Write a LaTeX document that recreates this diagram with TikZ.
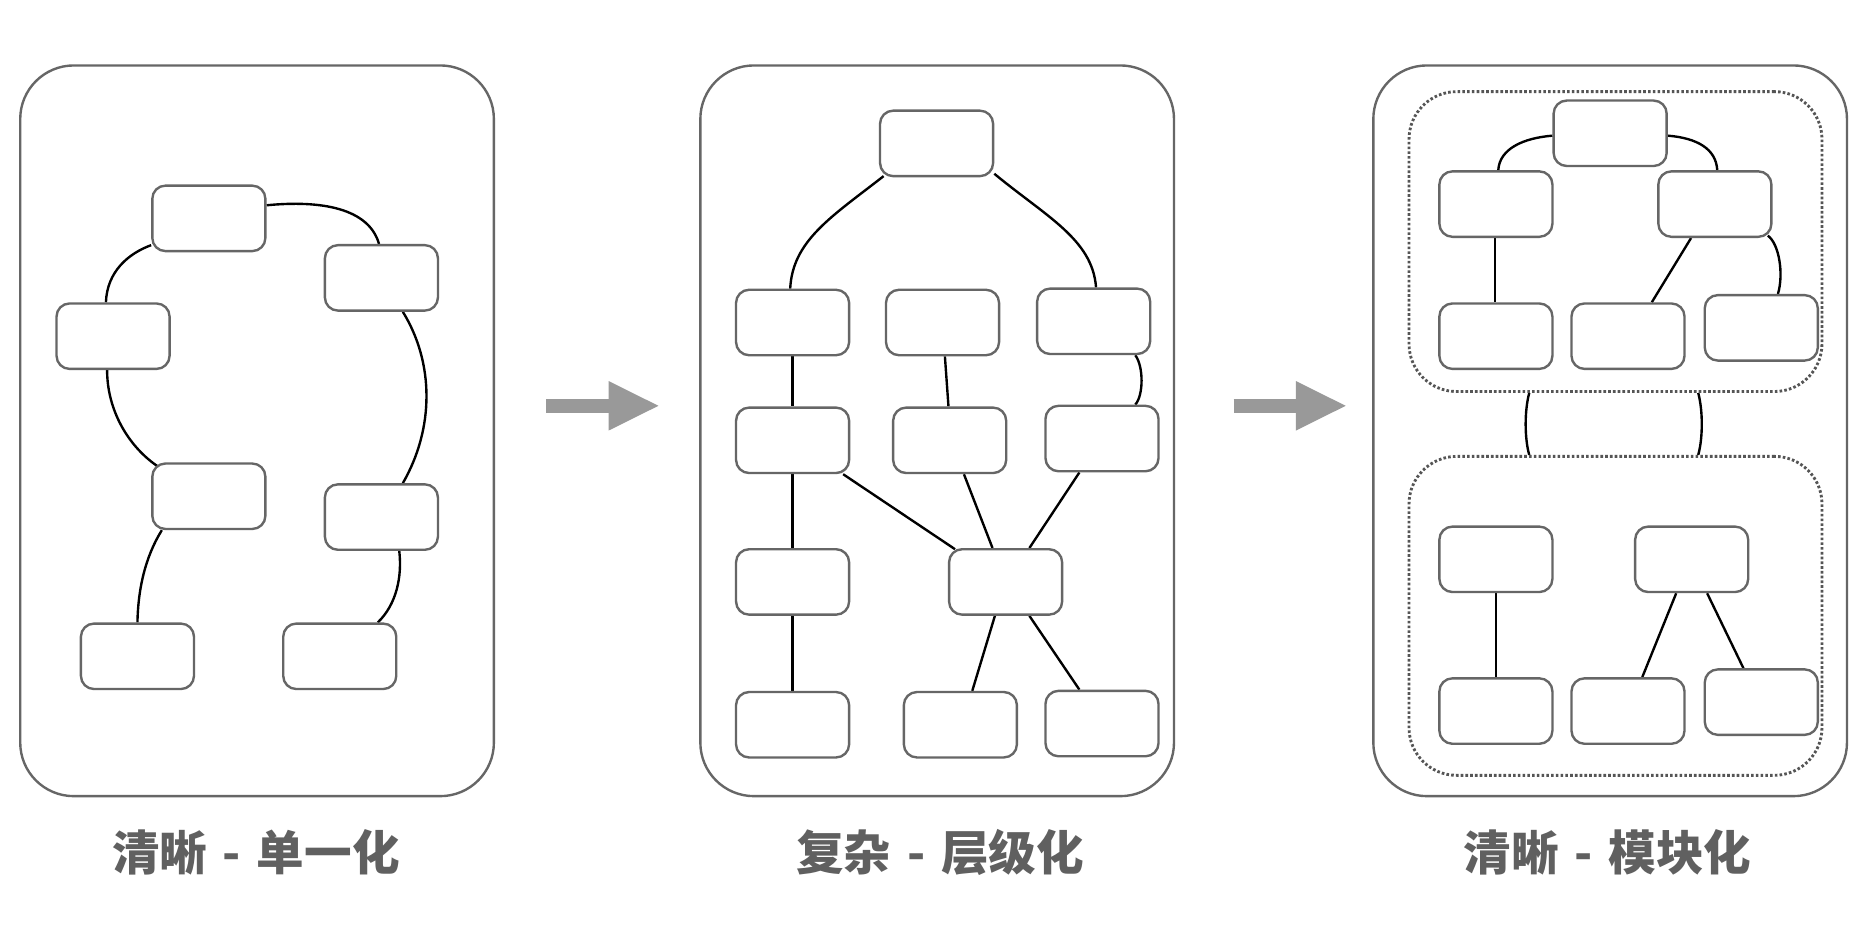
\documentclass[tikz,border=0pt]{standalone}
\usepackage{fontspec}
\newfontfamily\cjk{Noto Sans CJK SC}
\usetikzlibrary{calc,arrows.meta,backgrounds}
\definecolor{boxgray}{HTML}{666666}
\definecolor{dotgray}{HTML}{555555}
\definecolor{arrgray}{HTML}{999999}
\definecolor{txtgray}{HTML}{606060}
\tikzset{
  box/.style={draw=boxgray, fill=white, line width=2pt, rounded corners=11pt,
    minimum width=95pt, minimum height=55pt, inner sep=0pt},
  panel/.style={draw=boxgray, line width=2pt, rounded corners=45pt,
    minimum width=398pt, minimum height=614pt, inner sep=0pt},
  grp/.style={draw=dotgray, line width=2.4pt, dash pattern=on 2.2pt off 1.8pt,
    rounded corners=40pt, inner sep=0pt},
  conn/.style={draw=black, line width=2pt},
  bigarrow/.style={draw=arrgray, line width=12pt, -{Triangle[length=43pt,width=38pt]}},
  title/.style={text=txtgray, font=\cjk\bfseries\fontsize{40}{44}\selectfont, inner sep=0pt}
}
\begin{document}
\begin{tikzpicture}[x=1pt,y=-1pt]
\begin{scope}[on background layer]
\fill[white] (0,0) rectangle (1568,783);
\end{scope}
\useasboundingbox (0,0) rectangle (1568,783);

% panels
\node[panel] (p1) at (216,362) {};
\node[panel] (p2) at (787.5,362) {};
\node[panel] (p3) at (1353,362) {};

% titles
\node[title] (t1) at (215,716) {清晰\hspace{0.1em} - \hspace{0.1em}单一化};
\node[title] (t2) at (790,716) {复杂\hspace{0.1em} - \hspace{0.1em}层级化};
\node[title] (t3) at (1351,716) {清晰\hspace{0.1em} - \hspace{0.1em}模块化};

% arrows between panels
\draw[bigarrow] ($(p1.east)+(43,-21)$) coordinate (a1s) -- ($(p2.west)+(-33,-21)$) coordinate (a1e);
\draw[bigarrow] ($(p2.east)+(49,-21)$) coordinate (a2s) -- ($(p3.west)+(-21,-21)$) coordinate (a2e);

% ---------- panel 1 ----------
\node[box] (A) at (175.5,183.5) {};
\node[box] (B) at (320.5,233.5) {};
\node[box] (C) at (95,282.5) {};
\node[box] (D) at (175.5,417) {};
\node[box] (E) at (320.5,434.5) {};
\node[box] (F) at (115.5,551.5) {};
\node[box] (G) at (285.5,551.5) {};

\begin{scope}[on background layer]
\draw[conn] ($(A.south west)+(0,-6)$) .. controls (108,213) and (90,228) .. ($(C.north)+(-6,0)$);
\draw[conn] ($(A.east)+(0,-11)$) .. controls (270,168) and (310,175) .. ($(B.north)+(-2,0)$);
\draw[conn] ($(C.south)+(-5,0)$) .. controls (90,345) and (108,375) .. ($(D.north west)+(5,3)$);
\draw[conn] ($(B.south)+(18,0)$) .. controls (365,305) and (365,360) .. ($(E.north)+(18,0)$);
\draw[conn] ($(D.south west)+(9,0)$) .. controls (122,468) and (116,495) .. (F.north);
\draw[conn] ($(E.south)+(15,0)$) .. controls (338,485) and (333,508) .. ($(G.north)+(32,0)$);
\end{scope}

% ---------- panel 2 ----------
\node[box] (T) at (787,120.5) {};
\node[box] (R1a) at (666,271) {};
\node[box] (R1b) at (792,271) {};
\node[box] (R1c) at (919,270) {};
\node[box] (R2a) at (666,370) {};
\node[box] (R2b) at (798,370) {};
\node[box] (R2c) at (926,368.5) {};
\node[box] (R3a) at (666,489) {};
\node[box] (R3b) at (845,489) {};
\node[box] (R4a) at (666,609) {};
\node[box] (R4b) at (807,609) {};
\node[box] (R4c) at (926,608) {};

\begin{scope}[on background layer]
\draw[conn] ($(T.south west)+(4,-1)$) .. controls (699,182) and (666,202) .. ($(R1a.north)+(-2,0)$);
\draw[conn] ($(T.south east)+(0,-3)$) .. controls (879,182) and (918,201) .. ($(R1c.north)+(2,0)$);
\draw[conn] (R1a.south) -- (R2a.north);
\draw[conn] ($(R1b.south)+(2,0)$) -- ($(R2b.north)+(-1,0)$);
\draw[conn] ($(R1c.south)+(35,0)$) .. controls (961,308) and (961,332) .. ($(R2c.north)+(28,0)$);
\draw[conn] (R2a.south) -- (R3a.north);
\draw[conn] ($(R2a.south east)+(-6,0)$) -- ($(R3b.north west)+(6,1)$);
\draw[conn] ($(R2b.south)+(12,0)$) -- ($(R3b.north)+(-11,0)$);
\draw[conn] ($(R2c.south)+(-19,0)$) -- ($(R3b.north)+(20,0)$);
\draw[conn] (R3a.south) -- (R4a.north);
\draw[conn] ($(R3b.south)+(-9,0)$) -- ($(R4b.north)+(10,0)$);
\draw[conn] ($(R3b.south)+(20,0)$) -- ($(R4c.north)+(-19,0)$);
\end{scope}

% ---------- panel 3 ----------
\node[grp, minimum width=347pt, minimum height=252pt] (g1) at (1357.5,203) {};
\node[grp, minimum width=347pt, minimum height=268pt] (g2) at (1357.5,517.5) {};

\node[box] (M) at (1353,112) {};
\node[box] (M1a) at (1257,171.5) {};
\node[box] (M1b) at (1441,171.5) {};
\node[box] (M2a) at (1257,282.5) {};
\node[box] (M2b) at (1368,282.5) {};
\node[box] (M2c) at (1480,275.5) {};
\node[box] (N1a) at (1257,470) {};
\node[box] (N1b) at (1421.5,470) {};
\node[box] (N2a) at (1257,597.5) {};
\node[box] (N2b) at (1368,597.5) {};
\node[box] (N2c) at (1480,590) {};

\begin{scope}[on background layer]
\draw[conn] ($(M.west)+(0,2)$) .. controls (1280,116) and (1260,125) .. ($(M1a.north)+(2,0)$);
\draw[conn] ($(M.east)+(0,2)$) .. controls (1426,116) and (1442,125) .. ($(M1b.north)+(2,0)$);
\draw[conn] ($(M1a.south)+(-1,0)$) -- ($(M2a.north)+(-1,0)$);
\draw[conn] ($(M1b.south)+(-20,0)$) -- ($(M2b.north)+(20,0)$);
\draw[conn] ($(M1b.south east)+(-4,-2)$) .. controls (1495,205) and (1499,230) .. ($(M2c.north)+(14,0)$);
\draw[conn] ($(g1.south)+(-72.5,0)$) .. controls (1281,345) and (1281,368) .. ($(g2.north)+(-72.5,0)$);
\draw[conn] ($(g1.south)+(69.5,0)$) .. controls (1431,345) and (1431,368) .. ($(g2.north)+(69.5,0)$);
\draw[conn] (N1a.south) -- (N2a.north);
\draw[conn] ($(N1b.south)+(-13,0)$) -- ($(N2b.north)+(12,0)$);
\draw[conn] ($(N1b.south)+(13,0)$) -- ($(N2c.north)+(-15,0)$);
\end{scope}
\end{tikzpicture}
\end{document}
